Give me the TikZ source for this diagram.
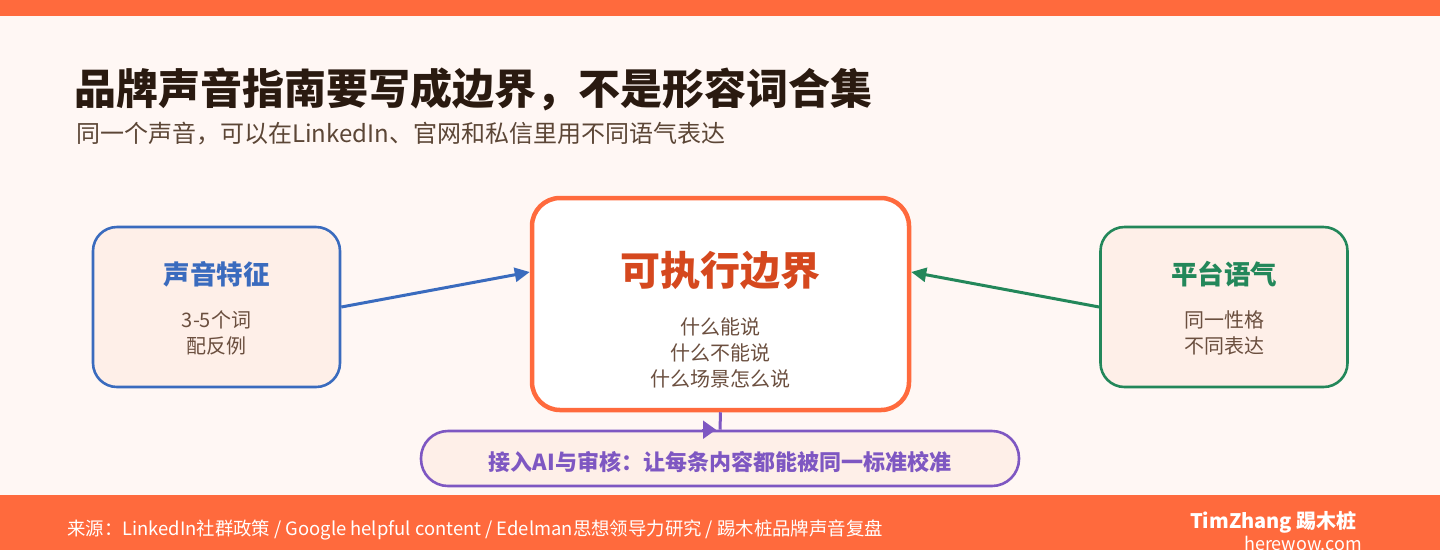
\documentclass[tikz,border=0pt]{standalone}
\usepackage{fontspec}
\setmainfont{Noto Sans CJK SC}
\usetikzlibrary{arrows.meta}
\definecolor{pagebg}{HTML}{FFF7F4}
\definecolor{accent}{HTML}{FF6A3D}
\definecolor{ink}{HTML}{2A1A10}
\definecolor{subink}{HTML}{5C4636}
\definecolor{bodyink}{HTML}{6B4F3F}
\definecolor{cardfill}{HTML}{FEEFE8}
\definecolor{CBlue}{HTML}{3A6BBE}
\definecolor{CGreen}{HTML}{23875A}
\definecolor{CPurple}{HTML}{7E57C2}
\definecolor{CRed}{HTML}{D5481E}

\tikzset{
  card/.style={draw, fill=cardfill, line width=2.6pt, rounded corners=24pt,
    minimum width=247pt, minimum height=160pt, inner sep=0pt},
  cardtitle/.style={font=\bfseries\fontsize{26.5}{30}\selectfont},
  cardbody/.style={align=center, text=bodyink, font=\fontsize{20}{26}\selectfont},
  link/.style={line width=3pt, -{Triangle[length=15pt,width=14pt]}}
}

\begin{document}
\begin{tikzpicture}[x=1pt, y=-1pt]
    \useasboundingbox (0,0) rectangle (1440,550);
    \fill [pagebg] (0,0) rectangle (1440,550);
    \fill [accent] (0,0) rectangle (1440,16);
    \fill [accent] (0,495) rectangle (1440,550);

    % heading
    \node [anchor=west, text=ink, font=\bfseries\fontsize{42}{48}\selectfont, inner sep=0pt] (title) at (74,89) {品牌声音指南要写成边界，不是形容词合集};
    \node [anchor=west, text=subink, font=\fontsize{24}{28}\selectfont, inner sep=0pt] (subtitle) at (76,134) {同一个声音，可以在LinkedIn、官网和私信里用不同语气表达};

    % left card
    \node [card, draw=CBlue] (voice) at (216.5,307) {};
    \node [cardtitle, text=CBlue] (voicetitle) at (216.5,274) {声音特征};
    \node [cardbody] (voicebody) at (216.5,333) {3-5个词\\配反例};

    % centre card
    \node [card, draw=accent, fill=white, line width=4.5pt, rounded corners=28pt,
           minimum width=377pt, minimum height=212pt] (bound) at (720.5,304) {};
    \node [text=CRed, font=\bfseries\fontsize{40}{46}\selectfont] (boundtitle) at (720.5,270) {可执行边界};
    \node [cardbody] (boundbody) at (720.5,353) {什么能说\\什么不能说\\什么场景怎么说};

    % right card
    \node [card, draw=CGreen] (tone) at (1224,307) {};
    \node [cardtitle, text=CGreen] (tonetitle) at (1224,274) {平台语气};
    \node [cardbody] (tonebody) at (1224,333) {同一性格\\不同表达};

    % bottom bar
    \node [card, draw=CPurple, rounded corners=27pt, minimum width=598pt, minimum height=55pt] (review) at (720,458.5) {};
    \node [text=CPurple, font=\bfseries\fontsize{22}{26}\selectfont] (reviewtext) at (720,462) {接入AI与审核：让每条内容都能被同一标准校准};

    % connectors
    \draw [link, CBlue] (voice.east) -- ([yshift=32pt]bound.west);
    \draw [link, CGreen] (tone.west) -- ([yshift=32pt]bound.east);
    \draw [line width=3pt, CPurple] (bound.south) -- (review.north);
    \draw [CPurple, line width=2pt, -{Triangle[length=13pt,width=18pt]}] ([xshift=-18pt]review.north) -- ([xshift=-4pt]review.north);

    % footer
    \node [anchor=west, text=white, font=\fontsize{18.4}{21}\selectfont, inner sep=0pt] (source) at (67,530) {来源：LinkedIn社群政策 / Google helpful content / Edelman思想领导力研究 / 踢木桩品牌声音复盘};
    \node [anchor=east, text=white, font=\bfseries\fontsize{20}{23}\selectfont, inner sep=0pt] (brand) at (1357,522) {TimZhang 踢木桩};
    \node [anchor=east, text=white, font=\fontsize{18}{21}\selectfont, inner sep=0pt] (site) at (1362,543) {herewow.com};
\end{tikzpicture}
\end{document}
